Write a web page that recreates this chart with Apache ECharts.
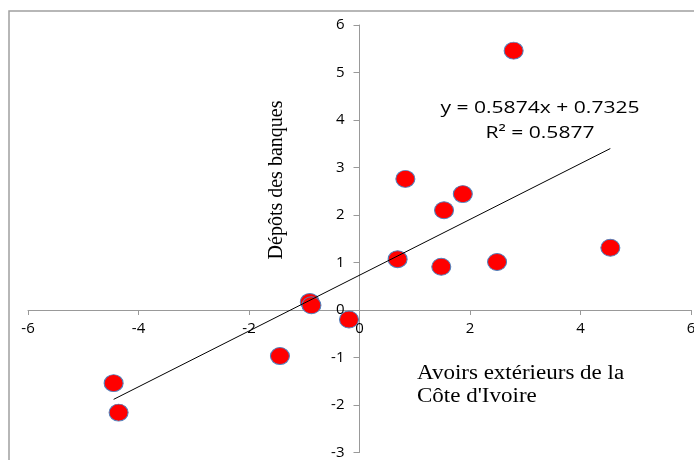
<!DOCTYPE html>
<html><head><meta charset="utf-8">
<script src="https://cdn.jsdelivr.net/npm/echarts@6/dist/echarts.min.js"></script>
<style>html,body{margin:0;padding:0;background:#fff}#c{width:694px;height:460px}</style>
</head><body><div id="c"></div>
<script>
const xValues = [2.79, 0.83, 1.87, 1.53, 0.69, 1.48, 2.49, 4.54, -0.90, -0.87, -0.19, -1.44, -4.45, -4.36];
const yValues = [5.46, 2.76, 2.44, 2.10, 1.07, 0.91, 1.01, 1.31, 0.17, 0.10, -0.20, -0.97, -1.54, -2.16];
const trendX = [-4.45, 4.54];
const slope = 0.5874, intercept = 0.7325;
const xTicks = [-6, -4, -2, 0, 2, 4, 6];
const yTicks = [-3, -2, -1, 0, 1, 2, 3, 4, 5, 6];
const eqText = 'y = 0.5874x + 0.7325';
const r2Text = 'R² = 0.5877';
const xTitle = ['Avoirs extérieurs de la', "Côte d'Ivoire"];
const yTitle = 'Dépôts des banques';

const pts = xValues.map((x, i) => [x, yValues[i]]);
const trend = trendX.map(x => [x, slope * x + intercept]);

const G = {left: 28, top: 25, width: 663, height: 427.5};
const xMin = xTicks[0], xMax = xTicks[xTicks.length - 1];
const yMin = yTicks[0], yMax = yTicks[yTicks.length - 1];
// offsets moving axes onto the zero lines
const xAxisOffset = -G.height * (0 - yMin) / (yMax - yMin);
const yAxisOffset = -G.width * (0 - xMin) / (xMax - xMin);

const chart = echarts.init(document.getElementById('c'), null, {renderer: 'canvas'});
const axisColor = '#999999';
const sans = '"Open Sans", "Liberation Sans", sans-serif';
const serif = '"Liberation Serif", "Times New Roman", serif';
chart.setOption({
  animation: false,
  grid: Object.assign({containLabel: false, outerBoundsMode: 'none'}, G),
  xAxis: {
    type: 'value', min: xMin, max: xMax, interval: 2, position: 'bottom', offset: xAxisOffset,
    axisLine: {onZero: false, lineStyle: {color: axisColor, width: 1}},
    axisTick: {show: true, length: 5, lineStyle: {color: axisColor}},
    axisLabel: {color: '#000', fontSize: 15, fontFamily: sans, margin: 11},
    splitLine: {show: false}
  },
  yAxis: {
    type: 'value', min: yMin, max: yMax, interval: 1, position: 'left', offset: yAxisOffset,
    axisLine: {onZero: false, lineStyle: {color: axisColor, width: 1}},
    axisTick: {show: true, length: 6, lineStyle: {color: axisColor}},
    axisLabel: {color: '#000', fontSize: 15, fontFamily: sans, margin: 15},
    splitLine: {show: false}
  },
  series: [
    {
      type: 'line', data: trend, symbol: 'none', z: 3,
      lineStyle: {color: '#000', width: 1}
    },
    {
      type: 'scatter', data: pts, symbol: 'circle', symbolSize: [19, 17], z: 2,
      itemStyle: {color: '#ff0000', borderColor: '#4f81bd', borderWidth: 1, opacity: 1}
    }
  ],
  graphic: [
    {type: 'rect', shape: {x: 9, y: 11, width: 700, height: 460}, style: {fill: 'none', stroke: '#a0a0a0', lineWidth: 1.5}, silent: true, z: 0},
    {type: 'text', x: 540, y: 108, scaleX: 1.24, style: {text: eqText, fill: '#000', fontSize: 17, fontFamily: sans, textAlign: 'center', textVerticalAlign: 'middle'}},
    {type: 'text', x: 540, y: 133, scaleX: 1.24, style: {text: r2Text, fill: '#000', fontSize: 17, fontFamily: sans, textAlign: 'center', textVerticalAlign: 'middle'}},
    {type: 'text', x: 417, y: 374, scaleX: 1.15, style: {text: xTitle[0], fill: '#000', fontSize: 20, fontFamily: serif, textAlign: 'left', textVerticalAlign: 'middle'}},
    {type: 'text', x: 417, y: 397, scaleX: 1.15, style: {text: xTitle[1], fill: '#000', fontSize: 20, fontFamily: serif, textAlign: 'left', textVerticalAlign: 'middle'}},
    {type: 'text', x: 277, y: 180, rotation: Math.PI / 2, style: {text: yTitle, fill: '#000', fontSize: 20, fontFamily: serif, textAlign: 'center', textVerticalAlign: 'middle'}}
  ]
});
</script></body></html>
